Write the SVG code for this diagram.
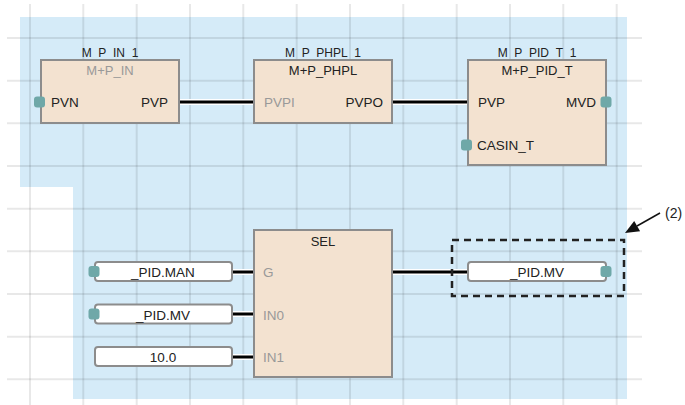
<svg xmlns="http://www.w3.org/2000/svg" width="685" height="405" viewBox="0 0 685 405">
<defs>
<style>
.grid line{stroke:#000;stroke-opacity:0.09;stroke-width:2}
.blk{fill:#f3e2d0;stroke:#8c8c8c;stroke-width:2}
.var{fill:#fff;stroke:#8c8c8c;stroke-width:2}
.dot{fill:#6fa8a8}
text{font-family:"Liberation Sans",Arial,sans-serif;fill:#222}
.t{font-size:12px;text-anchor:middle}
.ty{font-size:13px;text-anchor:middle}
.p{font-size:13.5px}
.r{text-anchor:end}
.c{text-anchor:middle}
.g{fill:#999}
.halo{stroke:#fff;stroke-width:6;fill:none}
.wire{stroke:#000;stroke-width:3;fill:none}
</style>
</defs>
<rect width="685" height="405" fill="#fff"/>
<polygon points="20,17 627,17 627,399 73,399 73,187 20,187" fill="#d5ebf8"/>
<g class="grid">
<line x1="30" y1="4" x2="30" y2="405"/>
<line x1="83.3" y1="4" x2="83.3" y2="405"/>
<line x1="136.7" y1="4" x2="136.7" y2="405"/>
<line x1="190" y1="4" x2="190" y2="405"/>
<line x1="243.3" y1="4" x2="243.3" y2="405"/>
<line x1="296.7" y1="4" x2="296.7" y2="405"/>
<line x1="350" y1="4" x2="350" y2="405"/>
<line x1="403.3" y1="4" x2="403.3" y2="405"/>
<line x1="456.7" y1="4" x2="456.7" y2="405"/>
<line x1="510" y1="4" x2="510" y2="405"/>
<line x1="563.3" y1="4" x2="563.3" y2="405"/>
<line x1="616.7" y1="4" x2="616.7" y2="405"/>
<line x1="7" y1="38" x2="642" y2="38"/>
<line x1="7" y1="80.7" x2="642" y2="80.7"/>
<line x1="7" y1="123.3" x2="642" y2="123.3"/>
<line x1="7" y1="166" x2="642" y2="166"/>
<line x1="7" y1="208.7" x2="642" y2="208.7"/>
<line x1="7" y1="251.3" x2="642" y2="251.3"/>
<line x1="7" y1="294" x2="642" y2="294"/>
<line x1="7" y1="336.7" x2="642" y2="336.7"/>
<line x1="7" y1="379.3" x2="642" y2="379.3"/>
</g>
<g id="connectors">
<path class="halo" d="M179,102H254M392,102H468M232,272H254M232,314H254M232,357H254M392,272H468"/>
<path class="wire" d="M179,102H254M392,102H468M232,272H254M232,314H254M232,357H254M392,272H468"/>
</g>
<g id="m_p_in_1">
<text class="t" x="110" y="57">M_P_IN_1</text>
<rect class="blk" x="41" y="60" width="138" height="63"/>
<text class="ty g" x="110" y="75">M+P_IN</text>
<rect class="dot" x="34" y="96.5" width="11" height="11" rx="3"/>
<text class="p" x="51" y="107">PVN</text>
<text class="p r" x="168" y="107">PVP</text>
</g>
<g id="m_p_phpl_1">
<text class="t" x="323" y="57">M_P_PHPL_1</text>
<rect class="blk" x="254" y="60" width="138" height="63"/>
<text class="ty" x="323" y="75">M+P_PHPL</text>
<text class="p g" x="264" y="107">PVPI</text>
<text class="p r" x="383" y="107">PVPO</text>
</g>
<g id="m_p_pid_t_1">
<text class="t" x="537" y="57">M_P_PID_T_1</text>
<rect class="blk" x="468" y="60" width="138" height="105"/>
<text class="ty" x="537" y="75">M+P_PID_T</text>
<text class="p" x="478" y="107">PVP</text>
<text class="p r" x="596" y="107">MVD</text>
<rect class="dot" x="600.5" y="96.5" width="11" height="11" rx="3"/>
<rect class="dot" x="461" y="139.5" width="11" height="11" rx="3"/>
<text class="p" x="477" y="150">CASIN_T</text>
</g>
<g id="sel">
<rect class="blk" x="254" y="230" width="138" height="147"/>
<text class="ty" x="323" y="246">SEL</text>
<text class="p g" x="263" y="277">G</text>
<text class="p g" x="263" y="320">IN0</text>
<text class="p g" x="263" y="362">IN1</text>
</g>
<g id="var_pid_man">
<rect class="var" x="95" y="262" width="137" height="19" rx="3"/>
<rect class="dot" x="88.5" y="266" width="11" height="11" rx="3"/>
<text class="p c" x="163" y="277">_PID.MAN</text>
</g>
<g id="var_pid_mv_in">
<rect class="var" x="95" y="304.5" width="137" height="19" rx="3"/>
<rect class="dot" x="88.5" y="308.5" width="11" height="11" rx="3"/>
<text class="p c" x="163" y="320">_PID.MV</text>
</g>
<g id="const_10">
<rect class="var" x="95" y="347" width="137" height="19" rx="3"/>
<text class="p c" x="163" y="362">10.0</text>
</g>
<g id="var_pid_mv_out">
<rect class="var" x="468" y="262" width="138" height="19" rx="3"/>
<rect class="dot" x="600.5" y="266" width="11" height="11" rx="3"/>
<text class="p c" x="537" y="277">_PID.MV</text>
</g>
<g id="callout">
<rect x="452" y="240" width="172" height="56" fill="none" stroke="#222" stroke-width="2.5" stroke-dasharray="7,5"/>
<line x1="660" y1="213" x2="637" y2="226" stroke="#111" stroke-width="1.5"/>
<polygon points="625,233 640.1,231.3 634.2,220.9" fill="#111"/>
<text x="665" y="218" style="font-size:14px">(2)</text>
</g>
</svg>
